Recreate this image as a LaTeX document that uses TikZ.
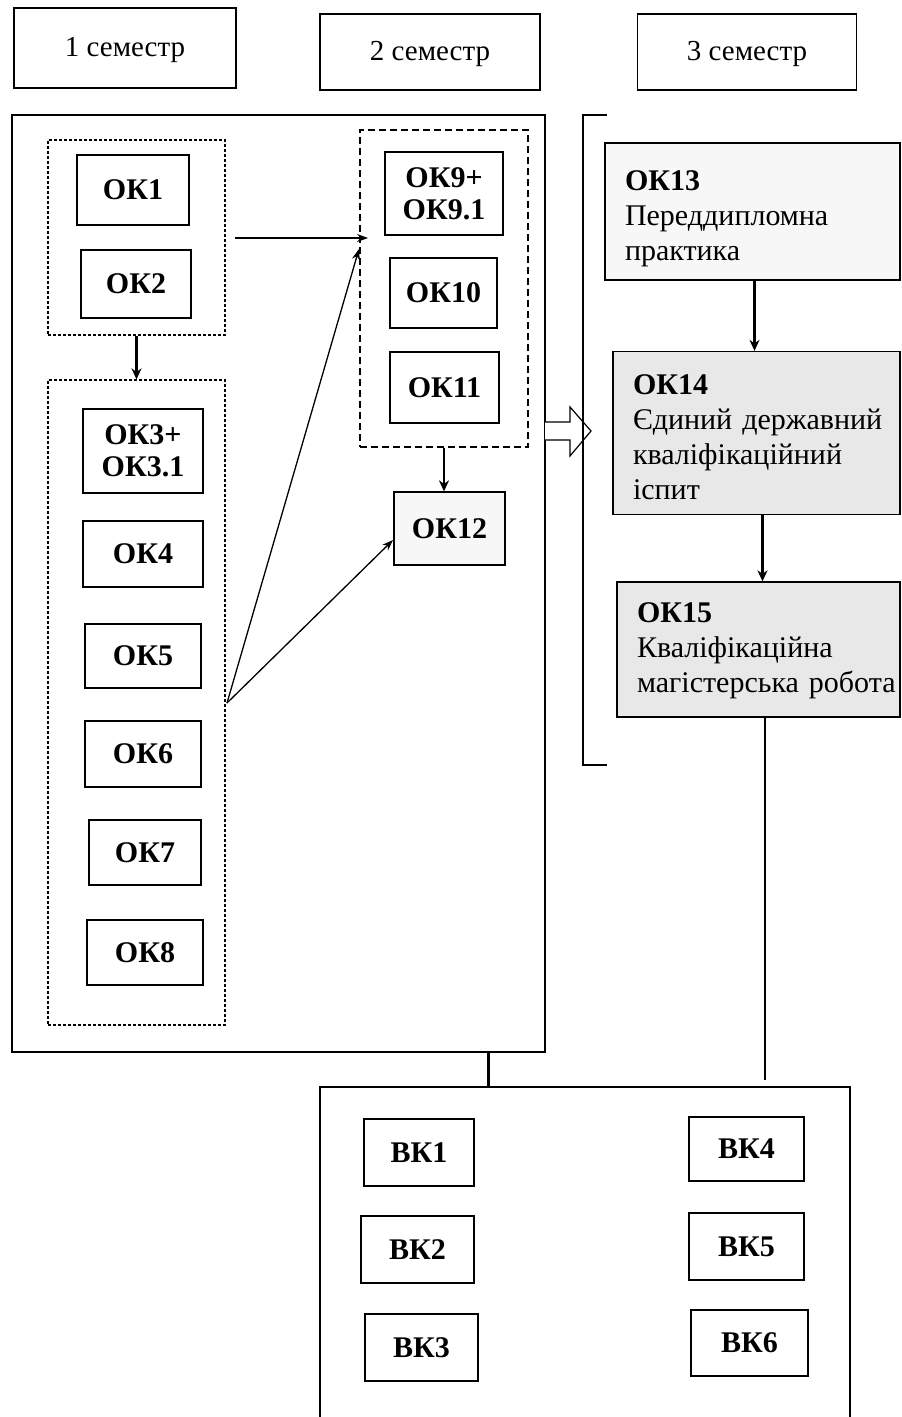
\documentclass[tikz,border=0pt]{standalone}
\usepackage{fontspec}
\setmainfont{Liberation Serif}
\usetikzlibrary{arrows.meta}
\tikzset{
  okbox/.style={draw, line width=1.3pt, inner sep=0pt, align=center,
    font=\fontsize{30}{32}\selectfont\bfseries},
  hdbox/.style={draw, line width=1.3pt, inner sep=0pt, align=center,
    font=\fontsize{29}{31}\selectfont},
  widebox/.style={draw, line width=1.3pt, inner xsep=20pt, inner ysep=0pt, align=left,
    font=\fontsize{30}{35}\selectfont},
  bigbox/.style={draw, line width=1.3pt, inner sep=0pt},
  finedash/.style={draw, line width=1.2pt, dash pattern=on 3pt off 2pt, inner sep=0pt},
  longdash/.style={draw, line width=1.3pt, dash pattern=on 7pt off 4pt, inner sep=0pt},
  thickarrow/.style={line width=2.5pt, -{Stealth[length=11pt,width=10pt]}},
  thinarrow/.style={line width=1.3pt, -{Stealth[length=11pt,width=8pt]}},
  plainline/.style={line width=1.3pt},
}
\begin{document}
\begin{tikzpicture}[x=1pt,y=-1pt]
\useasboundingbox (0,0) rectangle (902,1417);
% headers
\node[hdbox, minimum width=222, minimum height=80] (h1) at (125,48) {\rule{0pt}{24pt}1 семестр};
\node[hdbox, minimum width=220, minimum height=76] (h2) at (430,52) {\rule{0pt}{24pt}2 семестр};
\node[hdbox, minimum width=219, minimum height=76] (h3) at (747,52) {\rule{0pt}{24pt}3 семестр};
% big left box
\node[bigbox, minimum width=533, minimum height=937] (big) at (278.5,583.5) {};
% group 1
\node[finedash, minimum width=177, minimum height=195] (g1) at (136.5,237.5) {};
\node[okbox, minimum width=112, minimum height=70] (ok1) at (133,190) {ОК1};
\node[okbox, minimum width=110, minimum height=68] (ok2) at (136,284) {ОК2};
% group 2
\node[finedash, minimum width=177, minimum height=645] (g2) at (136.5,702.5) {};
\node[okbox, minimum width=120, minimum height=84] (ok3) at (143,451) {ОК3+\\ОК3.1};
\node[okbox, minimum width=120, minimum height=66] (ok4) at (143,554) {ОК4};
\node[okbox, minimum width=116, minimum height=64] (ok5) at (143,656) {ОК5};
\node[okbox, minimum width=116, minimum height=66] (ok6) at (143,754) {ОК6};
\node[okbox, minimum width=112, minimum height=65] (ok7) at (145,852.5) {ОК7};
\node[okbox, minimum width=116, minimum height=65] (ok8) at (145,952.5) {ОК8};
% group 3
\node[longdash, minimum width=168, minimum height=317] (g3) at (444,288.5) {};
\node[okbox, minimum width=118, minimum height=83] (ok9) at (444,193.5) {ОК9+\\ОК9.1};
\node[okbox, minimum width=107, minimum height=70] (ok10) at (443.5,293) {ОК10};
\node[okbox, minimum width=109, minimum height=71] (ok11) at (444.5,387.5) {ОК11};
\node[okbox, fill=black!3, minimum width=111, minimum height=73] (ok12) at (449.5,528.5) {ОК12};
% right column
\node[widebox, fill=black!3, minimum width=295, minimum height=137, text width=255] (ok13) at (752.5,211.5)
  {\mbox{\rule{0pt}{34pt}\textbf{ОК13}}\\\mbox{Переддипломна}\\\mbox{практика}};
\node[widebox, fill=black!9, minimum width=287, minimum height=163, text width=247] (ok14) at (756.5,433)
  {\mbox{\rule{0pt}{29pt}\textbf{ОК14}}\\\mbox{Єдиний державний}\\\mbox{кваліфікаційний}\\\mbox{іспит}};
\node[widebox, fill=black!9, minimum width=283, minimum height=135, text width=243] (ok15) at (758.5,649.5)
  {\mbox{\rule{0pt}{23pt}\textbf{ОК15}}\\\mbox{Кваліфікаційна}\\\mbox{магістерська робота}};
% bottom box
\node[bigbox, minimum width=530, minimum height=346] (bot) at (585,1260) {};
\node[okbox, minimum width=110, minimum height=67] (bk1) at (419,1152.5) {ВК1};
\node[okbox, minimum width=113, minimum height=67] (bk2) at (417.5,1249.5) {ВК2};
\node[okbox, minimum width=113, minimum height=67] (bk3) at (421.5,1347.5) {ВК3};
\node[okbox, minimum width=115, minimum height=64] (bk4) at (746.5,1149) {ВК4};
\node[okbox, minimum width=115, minimum height=67] (bk5) at (746.5,1246.5) {ВК5};
\node[okbox, minimum width=117, minimum height=66] (bk6) at (749.5,1343) {ВК6};
% connectors
\draw[thickarrow] (g1.south) -- (g1.south |- g2.north);
\coordinate (a1) at (235,238);
\coordinate (a2) at (368,238);
\draw[thinarrow] (a1) -- (a2);
\coordinate (src) at (227,703);
\coordinate (t1) at (359,249);
\coordinate (t2) at (393,540);
\draw[thinarrow] (src) -- (t1);
\draw[thinarrow] (src) -- (t2);
\draw[thickarrow] (g3.south) -- (g3.south |- ok12.north);
\draw[thickarrow] ([xshift=2pt]ok13.south) -- ([xshift=2pt]ok13.south |- ok14.north);
\draw[thickarrow] ([xshift=6pt]ok14.south) -- ([xshift=6pt]ok14.south |- ok15.north);
\coordinate (e15) at (765,1080);
\draw[plainline] ([xshift=6.5pt]ok15.south) -- (e15);
\draw[line width=3pt] (488,0 |- big.south) -- (488,0 |- bot.north);
% hollow arrow
\draw[line width=1.2pt, fill=white] (545,422) -- (570,422) -- (570,407) -- (591,431) -- (570,456) -- (570,440) -- (545,440);
% bracket
\draw[plainline] (607,115) -- (583,115) -- (583,765) -- (607,765);
\end{tikzpicture}
\end{document}
